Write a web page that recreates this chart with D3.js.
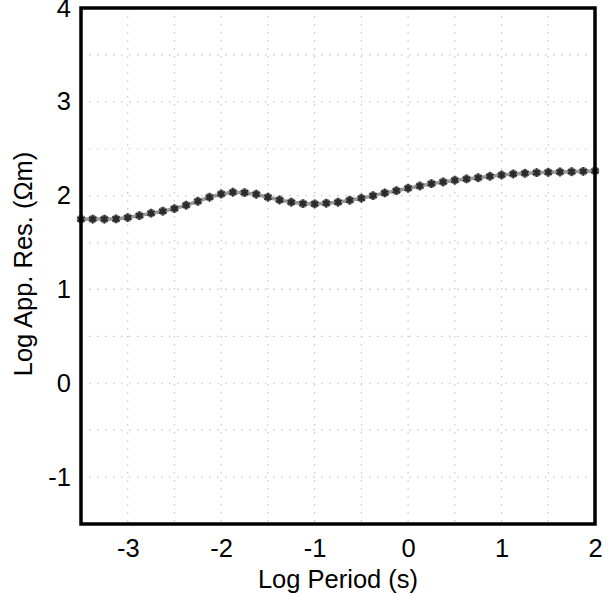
<!DOCTYPE html>
<html>
<head>
<meta charset="utf-8">
<script src="https://cdn.jsdelivr.net/npm/d3@7"></script>
<style>
  html, body { margin: 0; padding: 0; background: #fff; }
  svg { display: block; }
  text { font-family: "Liberation Sans", Arial, sans-serif; fill: #000; }
</style>
</head>
<body>
<svg id="chart" width="608" height="595"></svg>
<script>
// Apparent resistivity sounding curve (log10 period vs log10 apparent resistivity)
const logPeriod = [
  -3.5, -3.375, -3.25, -3.125, -3.0, -2.875, -2.75, -2.625, -2.5, -2.375,
  -2.25, -2.125, -2.0, -1.875, -1.75, -1.625, -1.5, -1.375, -1.25, -1.125,
  -1.0, -0.875, -0.75, -0.625, -0.5, -0.375, -0.25, -0.125, 0.0, 0.125,
  0.25, 0.375, 0.5, 0.625, 0.75, 0.875, 1.0, 1.125, 1.25, 1.375,
  1.5, 1.625, 1.75, 1.875, 2.0
];
const logAppRes = [
  1.749, 1.750, 1.750, 1.752, 1.766, 1.787, 1.813, 1.834, 1.862, 1.898,
  1.940, 1.983, 2.018, 2.036, 2.032, 2.015, 1.983, 1.954, 1.930, 1.915,
  1.912, 1.919, 1.930, 1.951, 1.972, 2.000, 2.029, 2.053, 2.079, 2.103,
  2.128, 2.146, 2.164, 2.178, 2.191, 2.206, 2.220, 2.231, 2.238, 2.245,
  2.249, 2.252, 2.255, 2.259, 2.263
];
const xTicks = [-3, -2, -1, 0, 1, 2];
const yTicks = [-1, 0, 1, 2, 3, 4];
const xGrid = d3.range(-3.5, 2.001, 0.5);
const yGrid = d3.range(-1.5, 4.001, 0.5);

const svg = d3.select("#chart");
const x = d3.scaleLinear().domain([-3.5, 2]).range([81, 595]);
const y = d3.scaleLinear().domain([-1.5, 4]).range([524, 8]);

// dotted grid every half unit
const grid = svg.append("g")
  .attr("stroke", "#c8c8c8")
  .attr("stroke-width", 1.2)
  .attr("stroke-dasharray", "1.5,6.5");
grid.selectAll("line.gx").data(xGrid).join("line")
  .attr("class", "gx")
  .attr("x1", d => x(d)).attr("x2", d => x(d))
  .attr("y1", y(4)).attr("y2", y(-1.5));
grid.selectAll("line.gy").data(yGrid).join("line")
  .attr("class", "gy")
  .attr("y1", d => y(d)).attr("y2", d => y(d))
  .attr("x1", x(-3.5)).attr("x2", x(2));

// axes (labels only; the frame is drawn separately), plain hyphen for negatives
const fmt = d => String(d);
const xAxis = svg.append("g")
  .attr("transform", `translate(0,${y(-1.5)})`)
  .call(d3.axisBottom(x).tickValues(xTicks).tickSize(0).tickPadding(15).tickFormat(fmt));
const yAxis = svg.append("g")
  .attr("transform", `translate(${x(-3.5)},0)`)
  .call(d3.axisLeft(y).tickValues(yTicks).tickSize(0).tickPadding(10).tickFormat(fmt));
[xAxis, yAxis].forEach(g => {
  g.select(".domain").remove();
  g.selectAll("text")
    .style("font-family", '"Liberation Sans", Arial, sans-serif')
    .style("font-size", "25.5px")
    .attr("fill", "#000");
});

// data curve
const pts = logPeriod.map((p, i) => [p, logAppRes[i]]);
svg.append("path")
  .datum(pts)
  .attr("fill", "none")
  .attr("stroke", "#999")
  .attr("stroke-width", 3.5)
  .attr("d", d3.line().x(d => x(d[0])).y(d => y(d[1])));

const marks = svg.append("g");
marks.selectAll("circle").data(pts).join("circle")
  .attr("cx", d => x(d[0])).attr("cy", d => y(d[1]))
  .attr("r", 3.8)
  .attr("fill", "#333")
  .attr("stroke", "#888")
  .attr("stroke-width", 1.2);
marks.selectAll("path").data(pts).join("path")
  .attr("transform", d => `translate(${x(d[0])},${y(d[1])})`)
  .attr("d", d3.symbol(d3.symbolAsterisk, 55))
  .attr("fill", "none")
  .attr("stroke", "#2a2a2a")
  .attr("stroke-width", 1.3);

// plot frame
svg.append("rect")
  .attr("x", x(-3.5)).attr("y", y(4))
  .attr("width", x(2) - x(-3.5)).attr("height", y(-1.5) - y(4))
  .attr("fill", "none")
  .attr("stroke", "#000")
  .attr("stroke-width", 3.5);

// axis titles
svg.append("text")
  .attr("x", (x(-3.5) + x(2)) / 2).attr("y", 588)
  .attr("text-anchor", "middle")
  .style("font-size", "25.5px")
  .text("Log Period (s)");
svg.append("text")
  .attr("transform", `translate(32,${(y(4) + y(-1.5)) / 2 - 2}) rotate(-90)`)
  .attr("text-anchor", "middle")
  .style("font-size", "25.5px")
  .text("Log App. Res. (Ωm)");
</script>
</body>
</html>
